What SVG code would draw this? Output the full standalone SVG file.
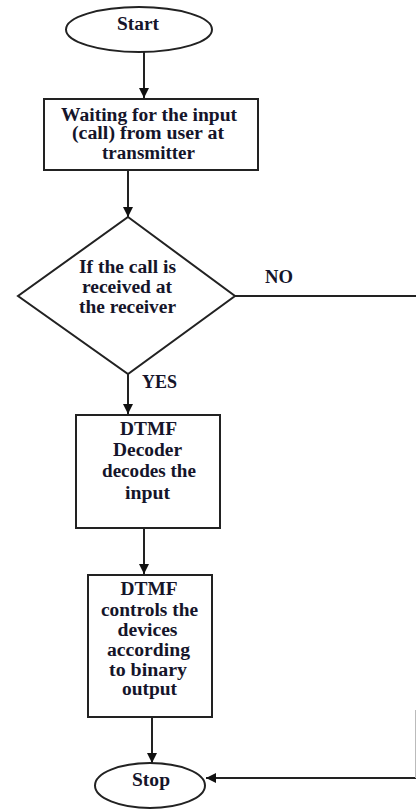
<svg xmlns="http://www.w3.org/2000/svg" width="416" height="809" viewBox="0 0 416 809">
<defs>
<marker id="arr" viewBox="0 0 10 10" refX="10" refY="5" markerWidth="10" markerHeight="10" markerUnits="userSpaceOnUse" orient="auto">
<path d="M0,0 L10,5 L0,10 z" fill="#111"/>
</marker>
<style>
.shape{fill:#fff;stroke:#222;stroke-width:2}
.line{fill:none;stroke:#222;stroke-width:2;marker-end:url(#arr)}
.t{font-family:"Liberation Serif","Times New Roman",serif;font-weight:bold;font-size:18.5px;fill:#15152a;text-anchor:middle}
</style>
</defs>
<rect width="416" height="809" fill="#fff"/>
<g id="connectors">
<line class="line" x1="144" y1="52" x2="144" y2="98"/>
<line class="line" x1="128" y1="170" x2="128" y2="217"/>
<line class="line" x1="128" y1="374" x2="128" y2="414"/>
<line class="line" x1="144" y1="528" x2="144" y2="574"/>
<line class="line" x1="152" y1="717" x2="152" y2="763"/>
<path class="line" d="M235,296 L418,296 L418,778 L206,778"/>
<line x1="415.5" y1="710" x2="415.5" y2="778" stroke="#bbb" stroke-width="1"/>
<text class="t" x="279" y="283" textLength="28" lengthAdjust="spacingAndGlyphs">NO</text>
<text class="t" x="159.5" y="388" textLength="35" lengthAdjust="spacingAndGlyphs">YES</text>
</g>
<g id="start">
<ellipse class="shape" cx="139" cy="29.5" rx="73" ry="22.5"/>
<text class="t" x="138" y="30" textLength="42" lengthAdjust="spacingAndGlyphs">Start</text>
</g>
<g id="wait">
<rect class="shape" x="44" y="99" width="214" height="71"/>
<text class="t" x="149" y="121" textLength="176" lengthAdjust="spacingAndGlyphs">Waiting for the input</text>
<text class="t" x="148" y="139" textLength="152" lengthAdjust="spacingAndGlyphs">(call) from user at</text>
<text class="t" x="148.5" y="159" textLength="93" lengthAdjust="spacingAndGlyphs">transmitter</text>
</g>
<g id="decision">
<polygon class="shape" points="128,217 235,296 128,374 18,296"/>
<text class="t" x="127.5" y="273" textLength="97" lengthAdjust="spacingAndGlyphs">If the call is</text>
<text class="t" x="127" y="293" textLength="90" lengthAdjust="spacingAndGlyphs">received at</text>
<text class="t" x="127.5" y="313" textLength="97" lengthAdjust="spacingAndGlyphs">the receiver</text>
</g>
<g id="decoder">
<rect class="shape" x="76" y="415" width="144" height="113"/>
<text class="t" x="148.5" y="435" textLength="57" lengthAdjust="spacingAndGlyphs">DTMF</text>
<text class="t" x="147.5" y="456" textLength="69" lengthAdjust="spacingAndGlyphs">Decoder</text>
<text class="t" x="149" y="477" textLength="94" lengthAdjust="spacingAndGlyphs">decodes the</text>
<text class="t" x="147.5" y="499" textLength="45" lengthAdjust="spacingAndGlyphs">input</text>
</g>
<g id="control">
<rect class="shape" x="88" y="575" width="124" height="142"/>
<text class="t" x="149" y="595" textLength="57" lengthAdjust="spacingAndGlyphs">DTMF</text>
<text class="t" x="149.5" y="616" textLength="97" lengthAdjust="spacingAndGlyphs">controls the</text>
<text class="t" x="147.5" y="636" textLength="60" lengthAdjust="spacingAndGlyphs">devices</text>
<text class="t" x="148.5" y="656" textLength="83" lengthAdjust="spacingAndGlyphs">according</text>
<text class="t" x="148" y="676" textLength="78" lengthAdjust="spacingAndGlyphs">to binary</text>
<text class="t" x="149.5" y="695" textLength="55" lengthAdjust="spacingAndGlyphs">output</text>
</g>
<g id="stop">
<ellipse class="shape" cx="150" cy="785.5" rx="55" ry="22.5"/>
<text class="t" x="151" y="786" textLength="38" lengthAdjust="spacingAndGlyphs">Stop</text>
</g>
</svg>
